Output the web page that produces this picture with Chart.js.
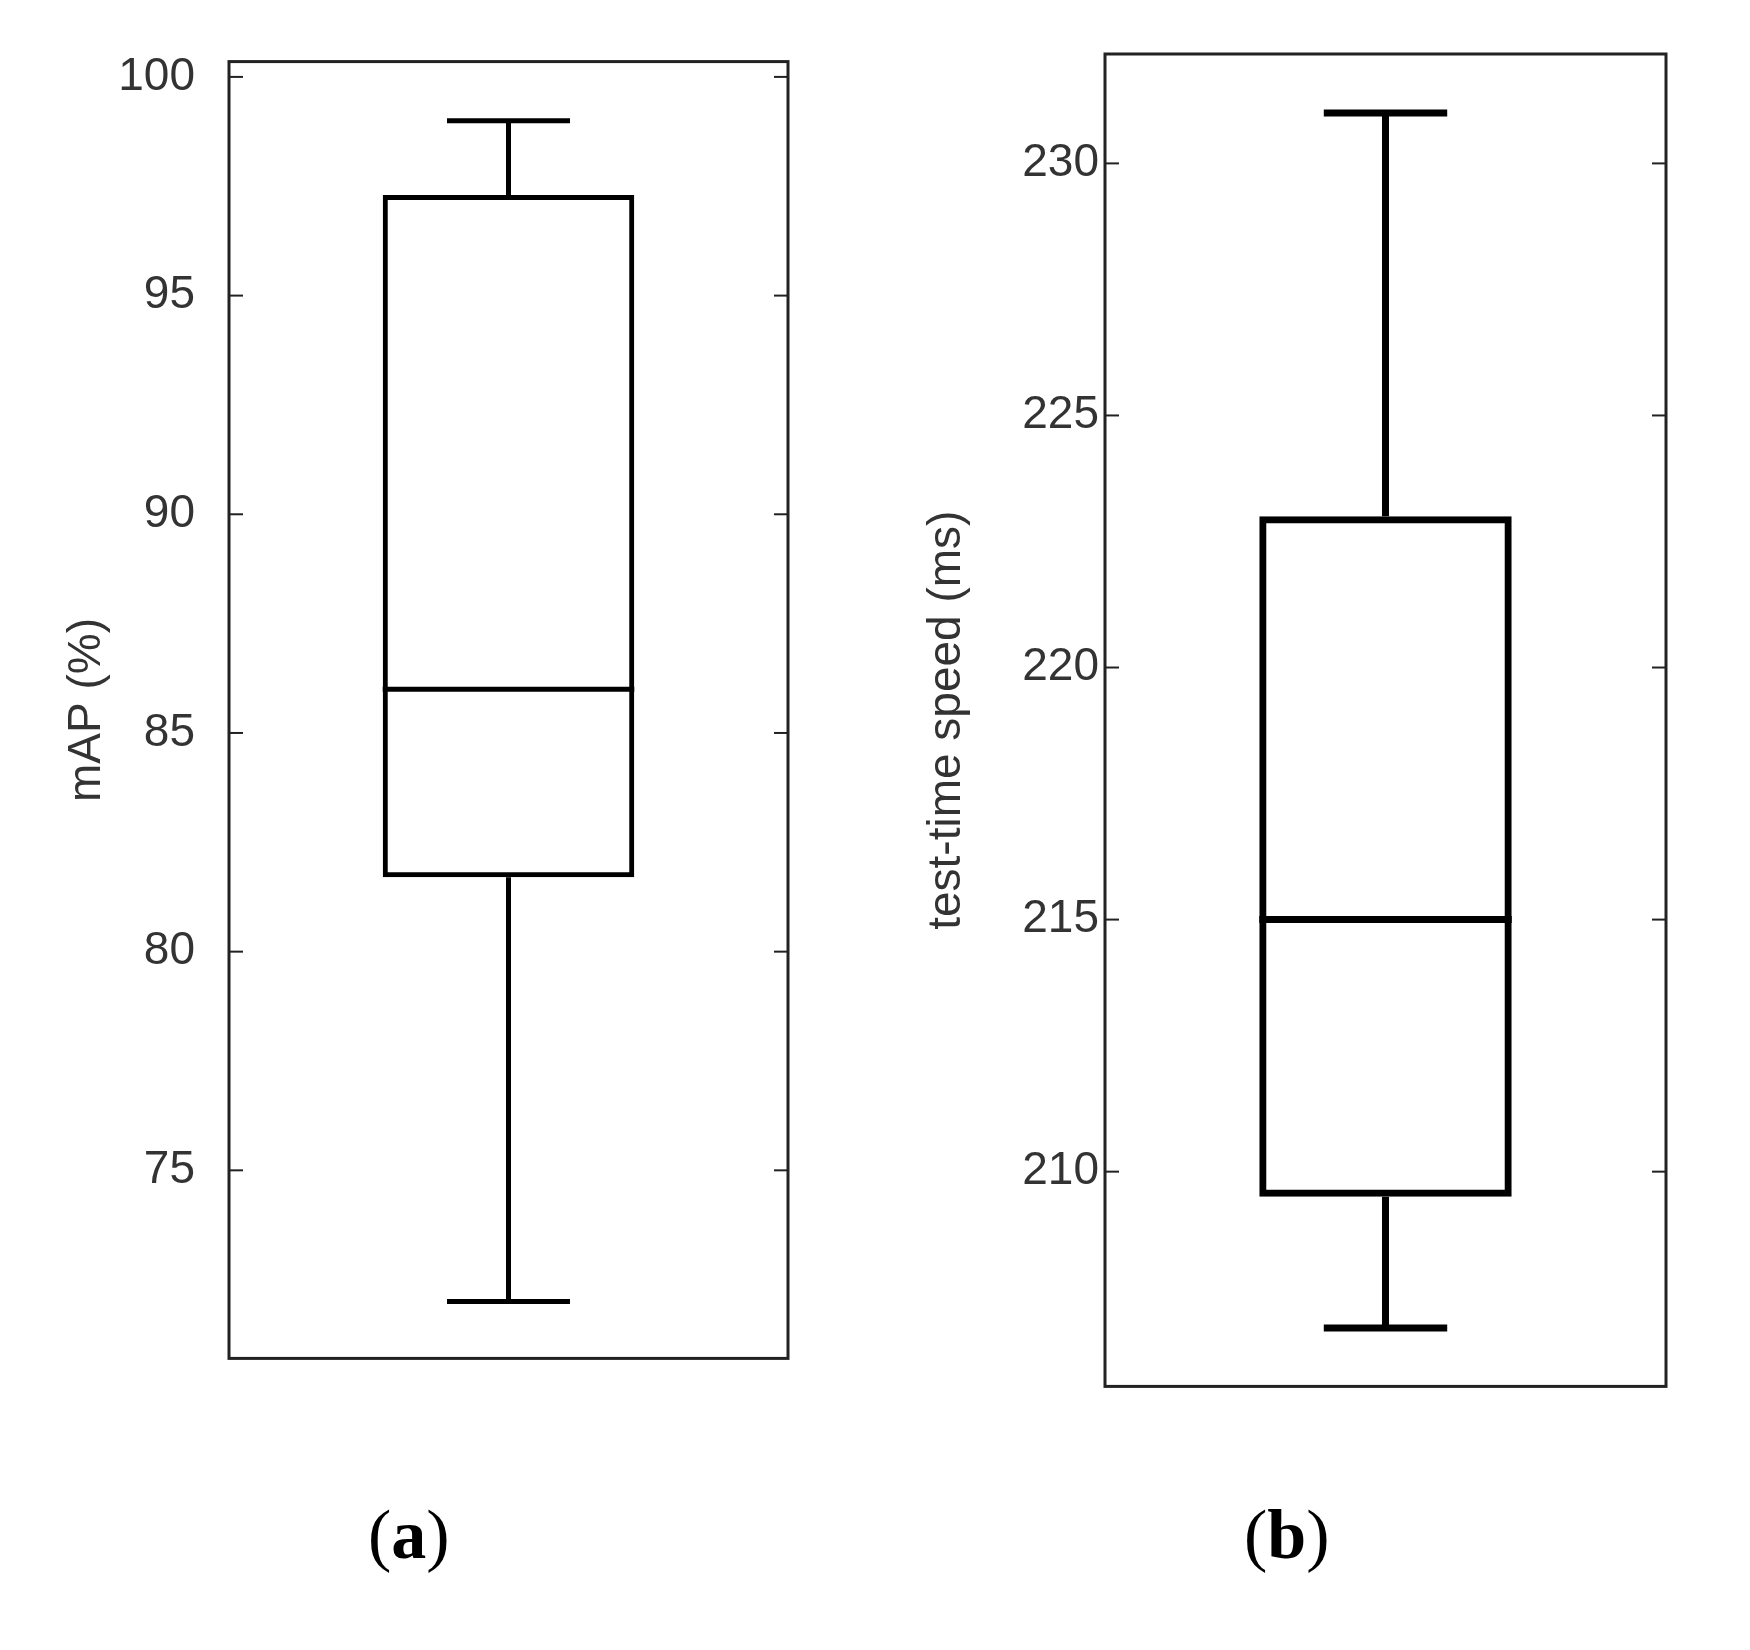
<!DOCTYPE html>
<html><head><meta charset="utf-8">
<script src="https://cdn.jsdelivr.net/npm/chart.js@4/dist/chart.umd.min.js"></script>
<style>body{margin:0;background:#fff;width:1750px;height:1650px;position:relative;font-family:"Liberation Serif",serif}
canvas{position:absolute}
.lab{position:absolute;top:1495px;font-size:70px;font-family:"Liberation Serif",serif}
</style></head><body>
<div style="position:absolute;left:0;top:0;width:820px;height:1420px"><canvas id="a"></canvas></div>
<div style="position:absolute;left:866px;top:0;width:830px;height:1420px"><canvas id="b"></canvas></div>
<div class="lab" style="left:368px">(<b>a</b>)</div>
<div class="lab" style="left:1244px">(<b>b</b>)</div>
<script>
const categories = [""];
const mapStats = {min:72, q1:81.7, median:86, q3:97.3, max:99};
const speedStats = {min:206.9, q1:209.5, median:215, q3:223, max:231};
const mapTicks = [75,80,85,90,95,100];
const speedTicks = [210,215,220,225,230];

const boxPlugin = {
  id:'boxp',
  afterDatasetsDraw(chart, args, opts){
    const {ctx, chartArea:ca, scales:{x,y}} = chart;
    const s = opts.stats, lw = opts.lw;
    const cx = x.getPixelForValue(0);
    const bw = (ca.right-ca.left)*0.45, cw = (ca.right-ca.left)*0.22;
    ctx.save(); ctx.strokeStyle='#000'; ctx.lineWidth=lw; ctx.lineCap='butt';
    const line=(x1,y1,x2,y2)=>{ctx.beginPath();ctx.moveTo(x1,y1);ctx.lineTo(x2,y2);ctx.stroke();};
    line(cx, y.getPixelForValue(s.max), cx, y.getPixelForValue(s.q3));
    line(cx, y.getPixelForValue(s.min), cx, y.getPixelForValue(s.q1));
    line(cx-cw/2, y.getPixelForValue(s.max), cx+cw/2, y.getPixelForValue(s.max));
    line(cx-cw/2, y.getPixelForValue(s.min), cx+cw/2, y.getPixelForValue(s.min));
    line(cx-bw/2, y.getPixelForValue(s.median), cx+bw/2, y.getPixelForValue(s.median));
    ctx.strokeStyle='#222'; ctx.lineWidth=3;
    ctx.strokeRect(ca.left, ca.top, ca.right-ca.left, ca.bottom-ca.top);
    ctx.lineWidth=2;
    y.ticks.forEach(t=>{const py=y.getPixelForValue(t.value);
      line(ca.left,py,ca.left+14,py); line(ca.right,py,ca.right-14,py);});
    ctx.restore();
  }
};

function make(id, stats, ticks, min, max, title, axisW, pad, lw, tpad){
  new Chart(document.getElementById(id), {
    type:'bar',
    data:{labels:categories, datasets:[{data:[[stats.q1, stats.q3]], backgroundColor:'rgba(0,0,0,0)',
      borderColor:'#000', borderWidth:lw, borderSkipped:false, barPercentage:0.45, categoryPercentage:1}]},
    options:{responsive:true, maintainAspectRatio:false, animation:false,
      layout:{padding:pad},
      plugins:{legend:{display:false}, tooltip:{enabled:false}, boxp:{stats, lw}},
      scales:{
        x:{display:false, offset:true},
        y:{min, max, afterFit(s){s.width=axisW;},
          afterBuildTicks(s){s.ticks = ticks.map(v=>({value:v}));},
          grid:{display:false, drawTicks:false}, border:{display:false},
          ticks:{color:'#333', padding:tpad, font:{family:'Liberation Sans', size:46}},
          title:{display:true, text:title, color:'#333', font:{family:'Liberation Sans', size:46}, padding:0}}
      }},
    plugins:[boxPlugin]
  });
}
make('a', mapStats, mapTicks, 70.7, 100.35, 'mAP (%)', 169, {top:54,bottom:49,right:32,left:60}, 5, 34);
make('b', speedStats, speedTicks, 205.74, 232.17, 'test-time speed (ms)', 185, {top:54,bottom:28,right:30,left:54}, 7, 6);
</script></body></html>
